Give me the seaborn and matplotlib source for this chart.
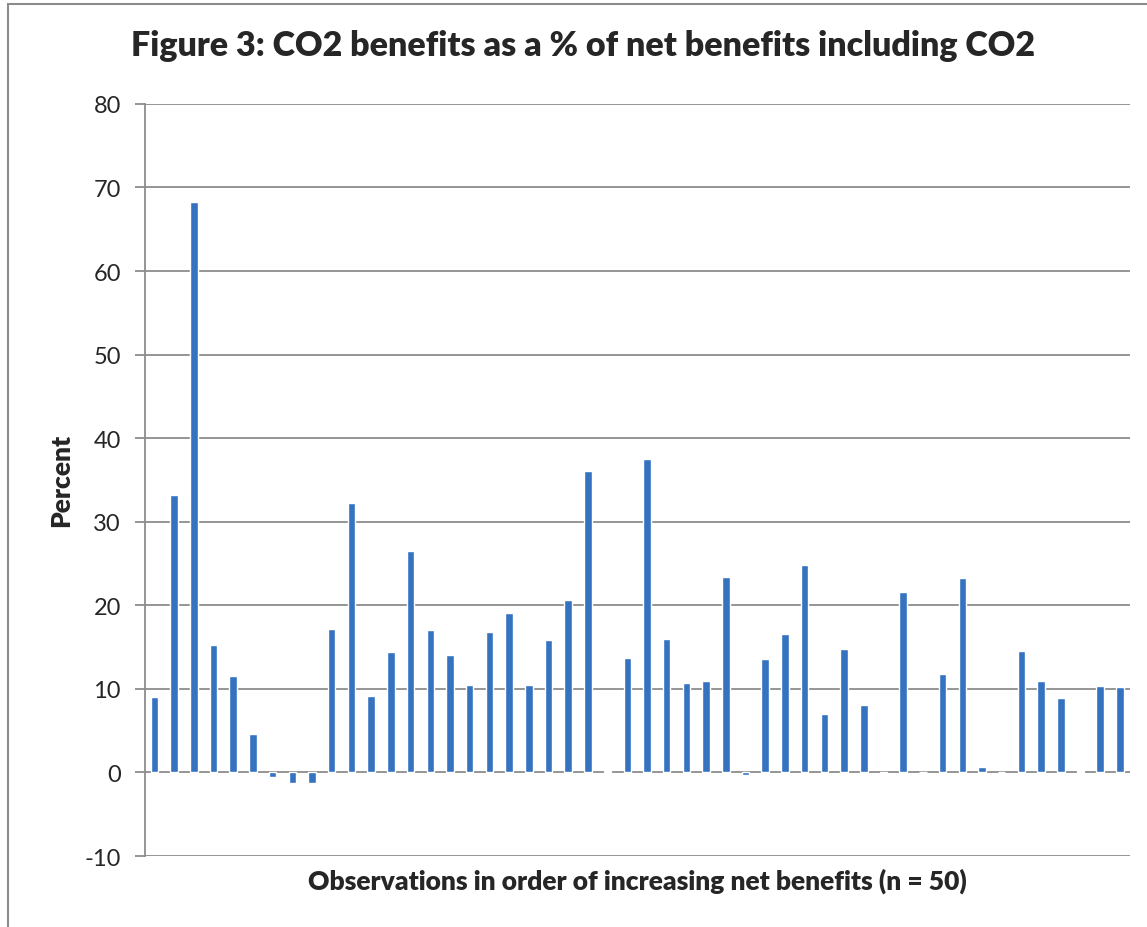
import seaborn as sns
import pandas as pd
import matplotlib.pyplot as plt
from matplotlib.patches import Rectangle

# values (percent), in order of increasing net benefits
observation = list(range(1, 51))
co2_share = [9.0, 33.2, 68.3, 15.2, 11.5, 4.6, -0.6, -1.3, -1.3, 17.2,
             32.2, 9.1, 14.4, 26.5, 17.0, 14.1, 10.5, 16.8, 19.1, 10.5,
             15.9, 20.6, 36.1, 0.2, 13.7, 37.5, 16.0, 10.7, 10.9, 23.4,
             -0.3, 13.6, 16.6, 24.8, 7.0, 14.8, 8.1, -0.1, 21.6, 0.0,
             11.8, 23.3, 0.6, 0.0, 14.5, 11.0, 8.9, 0.2, 10.3, 10.2]
yticks = list(range(-10, 81, 10))

df = pd.DataFrame({'obs': observation, 'pct': co2_share})

sns.set_style('white')
plt.rcParams['font.family'] = ['Lato', 'DejaVu Sans']

fig = plt.figure(figsize=(11.47, 9.28), dpi=100)
ax = fig.add_axes([0.126, 0.0765, 0.859, 0.8105])

# outer frame around the chart
fig.patches.append(Rectangle((8 / 1147, -0.01), 1.02, 1 - 5 / 928 + 0.01,
                             transform=fig.transFigure, fill=False,
                             edgecolor='#8c8c8c', linewidth=1.5))

sns.barplot(data=df, x='obs', y='pct', color='#3572C0', width=0.38,
            saturation=1, ax=ax, zorder=3)

ax.set_ylim(-10, 80)
ax.set_xlim(-0.5, 49.5)
ax.set_yticks(yticks)
ax.set_yticklabels([str(t) for t in yticks], fontsize=17)
ax.set_xticks([])
ax.yaxis.grid(True, color='#8c8c8c', linewidth=1.3, zorder=0)
ax.set_axisbelow(True)
for s in ['top', 'right', 'bottom']:
    ax.spines[s].set_visible(False)
ax.spines['left'].set_color('#8c8c8c')
ax.spines['left'].set_linewidth(1.3)
ax.tick_params(axis='y', left=True, length=7, color='#8c8c8c', width=1.3, pad=10)

ax.set_ylabel('Percent', fontsize=19, fontweight='heavy', labelpad=8)
ax.set_xlabel('Observations in order of increasing net benefits (n = 50)',
              fontsize=19, fontweight='heavy', labelpad=8)
fig.suptitle('Figure 3: CO2 benefits as a % of net benefits including CO2',
             x=0.508, y=0.968, fontsize=24.5, fontweight='heavy')

fig.savefig('out.png', dpi=100)
